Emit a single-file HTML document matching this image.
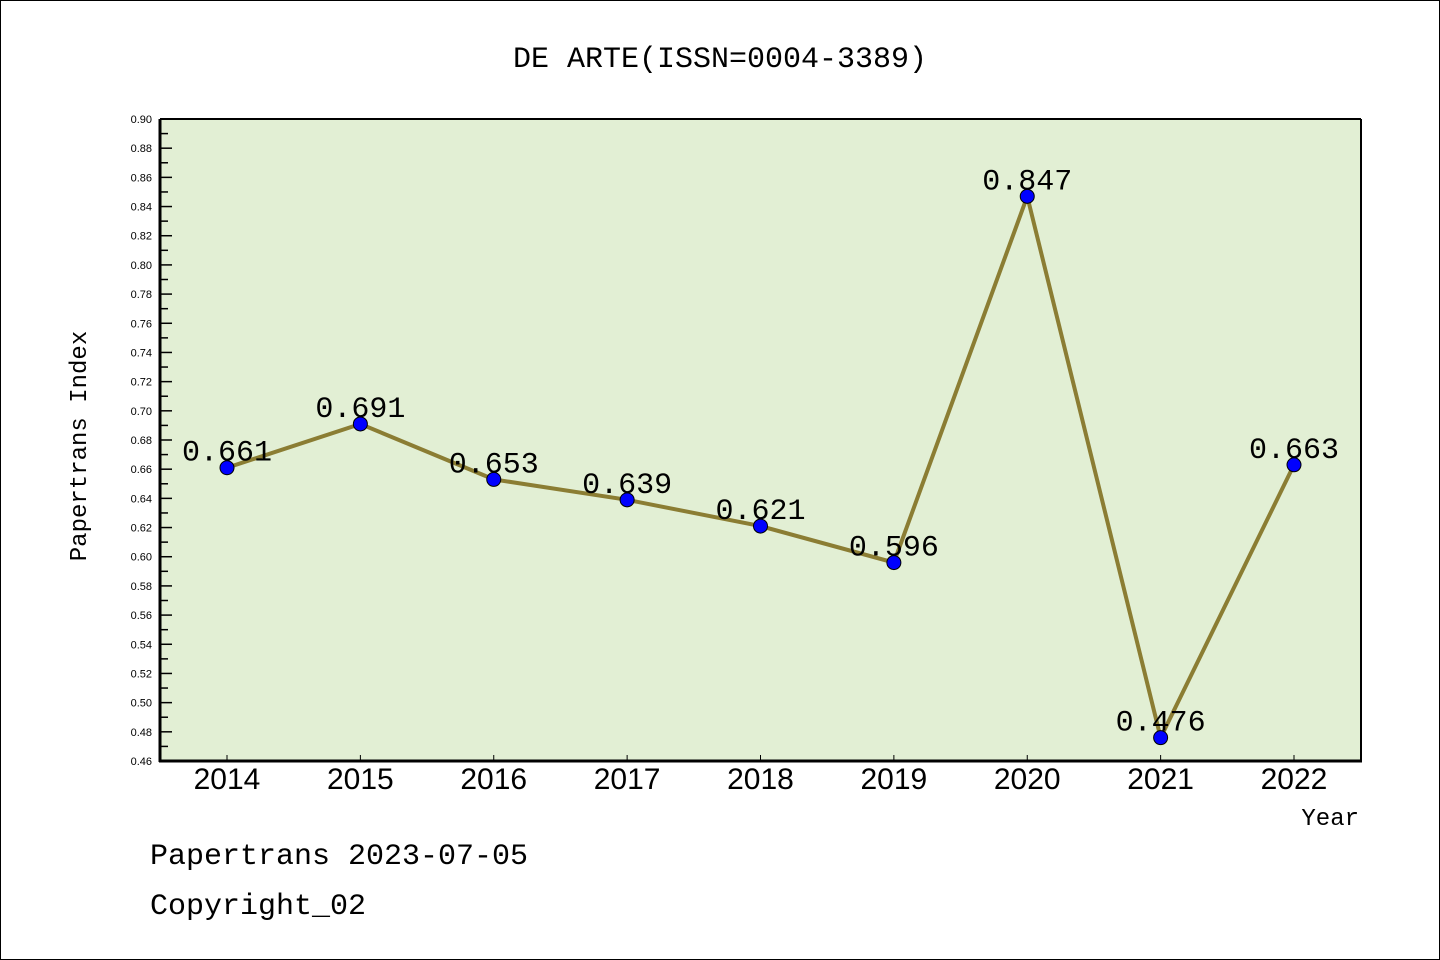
<!DOCTYPE html>
<html><head><meta charset="utf-8"><style>
body{margin:0;background:#fff}
svg{display:block;font-family:"Liberation Mono","WenQuanYi Zen Hei",monospace}
</style></head><body>
<svg width="1440" height="960">
<rect x="0.5" y="0.5" width="1439" height="959" fill="#fff" stroke="#000"/>
<text x="720" y="67" text-anchor="middle" font-size="30">DE ARTE(ISSN=0004-3389)</text>
<rect x="160" y="119" width="1201" height="642" fill="#e2efd4"/>
<g id="yaxis"></g><g id="xaxis"></g><g id="series"></g>
<line x1="160" y1="119" x2="1361" y2="119" stroke="#000" stroke-width="2"/>
<line x1="1361" y1="119" x2="1361" y2="761" stroke="#000" stroke-width="2"/>
<line x1="160" y1="119" x2="160" y2="762" stroke="#000" stroke-width="3"/>
<line x1="159" y1="761" x2="1362" y2="761" stroke="#000" stroke-width="3"/>
<text x="86" y="446" text-anchor="middle" font-size="24" transform="rotate(-90 86 446)">Papertrans Index</text>
<text x="1359" y="825" text-anchor="end" font-size="24">Year</text>
<text x="150" y="864" font-size="30">Papertrans 2023-07-05</text>
<text x="150" y="914" font-size="30">Copyright_02</text>
</svg>
<script>
const years=["2014","2015","2016","2017","2018","2019","2020","2021","2022"];
const values=[0.661,0.691,0.653,0.639,0.621,0.596,0.847,0.476,0.663];
const labels=["0.661","0.691","0.653","0.639","0.621","0.596","0.847","0.476","0.663"];
const yMin=0.46,yMax=0.90;
const NS="http://www.w3.org/2000/svg";
const L=160,R=1361,T=119,B=761;
const x=i=>227+i*(1294-227)/(years.length-1);
const y=v=>T+(yMax-v)/(yMax-yMin)*(B-T);
function mk(tag,a,p){const e=document.createElementNS(NS,tag);for(const k in a)e.setAttribute(k,a[k]);p.appendChild(e);return e;}
const ya=document.getElementById('yaxis'),xa=document.getElementById('xaxis'),se=document.getElementById('series');
for(let k=0;k<=44;k++){const v=yMin+k*0.01,yy=y(v);
 const t=mk('line',{x1:L,y1:yy,x2:L+(k%2?8:12),y2:yy,stroke:'#000','stroke-width':1.5},ya);
 
 
 if(k%2==0){const tx=mk('text',{x:152,y:yy+4,'text-anchor':'end','font-size':11,'font-family':'Liberation Sans,sans-serif'},ya);tx.textContent=v.toFixed(2);
 
 }}
years.forEach((yr,i)=>{const t=mk('line',{x1:x(i),y1:B,x2:x(i),y2:B-6,stroke:'#000','stroke-width':1},xa);
 
 
 const tx=mk('text',{x:x(i),y:789,'text-anchor':'middle','font-size':30,'font-family':'Liberation Sans,sans-serif'},xa);tx.textContent=yr;
 
 });
const pl=mk('polyline',{points:values.map((v,i)=>x(i)+','+y(v)).join(' '),fill:'none',stroke:'#8b7d33','stroke-width':4},se);


values.forEach((v,i)=>{const c=mk('circle',{cx:x(i),cy:y(v),r:7,fill:'#0000ff',stroke:'#000','stroke-width':1},se);
 
 
 const tx=mk('text',{x:x(i),y:y(v)-7,'text-anchor':'middle','font-size':30},se);tx.textContent=labels[i];
 
 });
</script>
</body></html>
